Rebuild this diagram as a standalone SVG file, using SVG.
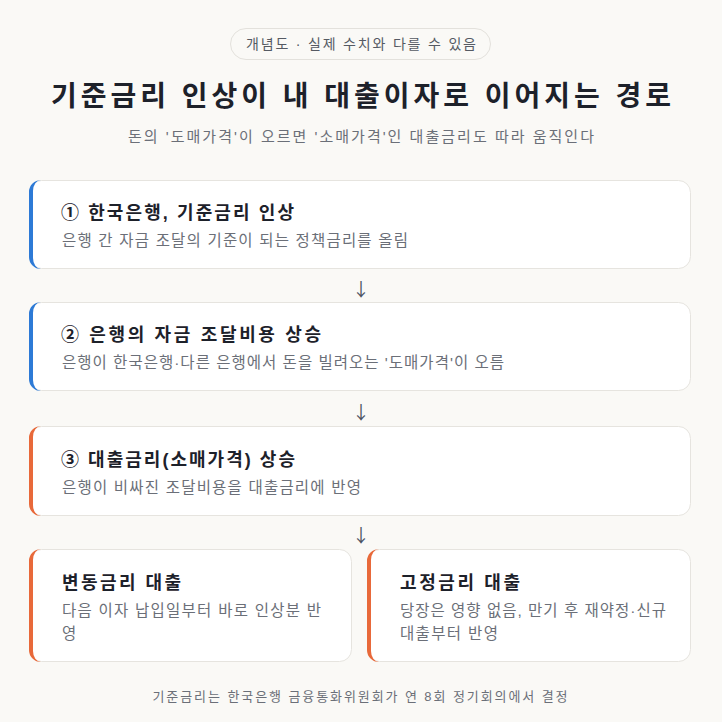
<svg xmlns="http://www.w3.org/2000/svg" width="722" height="722" viewBox="0 0 722 722">
<style>
text{font-family:"Liberation Sans","Noto Sans CJK KR",sans-serif;}
.pill{font-size:14px;fill:#555a63;}
.title{font-size:28px;font-weight:700;fill:#1d212a;}
.sub{font-size:15px;fill:#6b6f78;}
.ct{font-size:18px;font-weight:700;fill:#1d212a;}
.cd{font-size:15.5px;fill:#6b6f78;}
.card{fill:#ffffff;stroke:#e6e4df;stroke-width:1;}
.blue{fill:#2d7ad6;}
.orange{fill:#e8693a;}
.arr{font-family:"Noto Sans CJK KR","DejaVu Sans",sans-serif;font-size:18px;fill:#4b5262;}
.foot{font-size:13px;fill:#6b6f78;}
</style>
<rect width="722" height="722" fill="#faf9f6"/>
<g id="badge">
<rect x="230.5" y="28.5" width="260" height="31" rx="15.5" fill="#faf9f6" stroke="#e3e1dc"/>
<text class="pill" x="361" y="49" text-anchor="middle" textLength="230" lengthAdjust="spacing">개념도 · 실제 수치와 다를 수 있음</text>
</g>
<g id="header">
<text class="title" x="361" y="106" text-anchor="middle" textLength="620" lengthAdjust="spacing">기준금리 인상이 내 대출이자로 이어지는 경로</text>
<text class="sub" x="361" y="142" text-anchor="middle" textLength="466" lengthAdjust="spacing">돈의 '도매가격'이 오르면 '소매가격'인 대출금리도 따라 움직인다</text>
</g>
<g id="connectors">
<text class="arr" x="361" y="296" text-anchor="middle">↓</text>
<text class="arr" x="361" y="419" text-anchor="middle">↓</text>
<text class="arr" x="361" y="542" text-anchor="middle">↓</text>
</g>
<g id="step1">
<rect class="card" x="29.5" y="180.5" width="661" height="88" rx="12"/>
<path class="blue" d="M41,180 A12,12 0 0 0 29,192 V257 A12,12 0 0 0 41,269 A8,11 0 0 1 33,258 V191 A8,11 0 0 1 41,180 Z"/>
<text class="ct" x="61" y="219" textLength="233" lengthAdjust="spacing">① 한국은행, 기준금리 인상</text>
<text class="cd" x="62" y="246" textLength="346" lengthAdjust="spacing">은행 간 자금 조달의 기준이 되는 정책금리를 올림</text>
</g>
<g id="step2">
<rect class="card" x="29.5" y="302.5" width="661" height="88" rx="12"/>
<path class="blue" d="M41,302 A12,12 0 0 0 29,314 V379 A12,12 0 0 0 41,391 A8,11 0 0 1 33,380 V313 A8,11 0 0 1 41,302 Z"/>
<text class="ct" x="61" y="341" textLength="260" lengthAdjust="spacing">② 은행의 자금 조달비용 상승</text>
<text class="cd" x="62" y="368" textLength="442" lengthAdjust="spacing">은행이 한국은행·다른 은행에서 돈을 빌려오는 '도매가격'이 오름</text>
</g>
<g id="step3">
<rect class="card" x="29.5" y="426.5" width="661" height="89" rx="12"/>
<path class="orange" d="M41,426 A12,12 0 0 0 29,438 V504 A12,12 0 0 0 41,516 A8,11 0 0 1 33,505 V437 A8,11 0 0 1 41,426 Z"/>
<text class="ct" x="61" y="466" textLength="234" lengthAdjust="spacing">③ 대출금리(소매가격) 상승</text>
<text class="cd" x="62" y="493" textLength="299" lengthAdjust="spacing">은행이 비싸진 조달비용을 대출금리에 반영</text>
</g>
<g id="variable">
<rect class="card" x="29.5" y="549.5" width="322" height="112" rx="12"/>
<path class="orange" d="M41,549 A12,12 0 0 0 29,561 V650 A12,12 0 0 0 41,662 A8,11 0 0 1 33,651 V560 A8,11 0 0 1 41,549 Z"/>
<text class="ct" x="62" y="589" textLength="119" lengthAdjust="spacing">변동금리 대출</text>
<text class="cd" x="62" y="616" textLength="259" lengthAdjust="spacing">다음 이자 납입일부터 바로 인상분 반</text>
<text class="cd" x="62" y="639">영</text>
</g>
<g id="fixed">
<rect class="card" x="367.5" y="549.5" width="323" height="112" rx="12"/>
<path class="orange" d="M379,549 A12,12 0 0 0 367,561 V650 A12,12 0 0 0 379,662 A8,11 0 0 1 371,651 V560 A8,11 0 0 1 379,549 Z"/>
<text class="ct" x="400" y="589" textLength="120" lengthAdjust="spacing">고정금리 대출</text>
<text class="cd" x="400" y="616" textLength="266" lengthAdjust="spacing">당장은 영향 없음, 만기 후 재약정·신규</text>
<text class="cd" x="400" y="639" textLength="98" lengthAdjust="spacing">대출부터 반영</text>
</g>
<g id="footer">
<text class="foot" x="360" y="701" text-anchor="middle" textLength="415" lengthAdjust="spacing">기준금리는 한국은행 금융통화위원회가 연 8회 정기회의에서 결정</text>
</g>
</svg>
